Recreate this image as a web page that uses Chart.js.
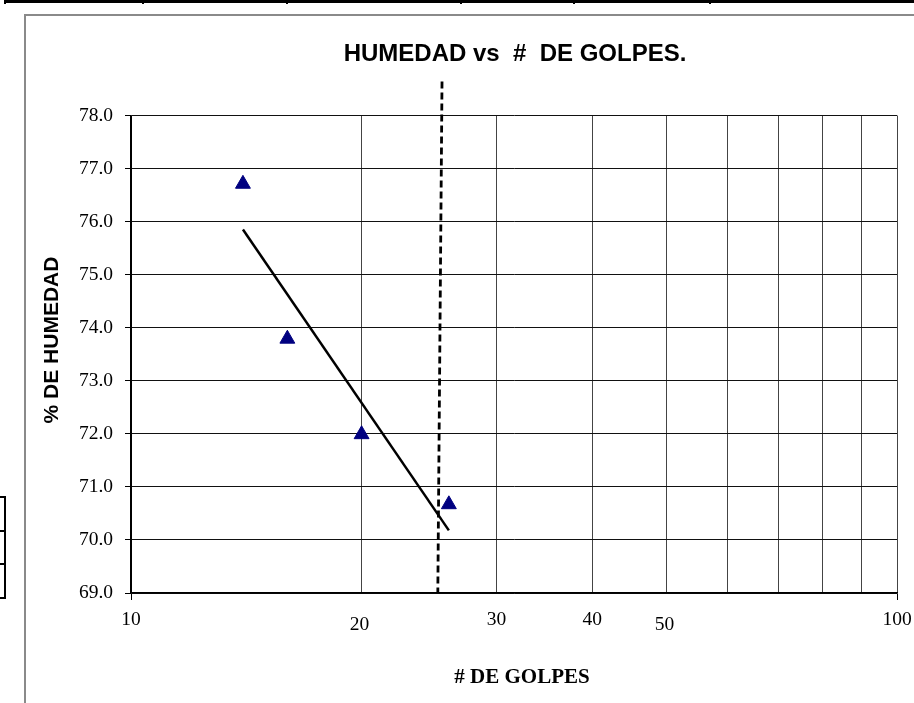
<!DOCTYPE html>
<html>
<head>
<meta charset="utf-8">
<script src="https://cdn.jsdelivr.net/npm/chart.js@4/dist/chart.umd.min.js"></script>
<style>
  html,body{margin:0;padding:0;background:#fff;}
  #wrap{position:relative;width:914px;height:703px;overflow:hidden;background:#fff;}
  #frame{position:absolute;left:24px;top:14px;width:1000px;height:1000px;border-left:2px solid #8a8a8a;border-top:2px solid #8a8a8a;}
  .blk{position:absolute;background:#000;}
  canvas{position:absolute;left:0;top:0;}
</style>
</head>
<body>
<div id="wrap">
  <div id="frame"></div>
  <!-- table fragments around the chart -->
  <div class="blk" style="left:4px;top:0;width:910px;height:3px;"></div>
  <div class="blk" style="left:4px;top:0;width:2px;height:4px;"></div>
  <div class="blk" style="left:142px;top:0;width:2px;height:4px;"></div>
  <div class="blk" style="left:286px;top:0;width:2px;height:4px;"></div>
  <div class="blk" style="left:460px;top:0;width:2px;height:4px;"></div>
  <div class="blk" style="left:573px;top:0;width:2px;height:4px;"></div>
  <div class="blk" style="left:709px;top:0;width:2px;height:4px;"></div>
  <div class="blk" style="left:4px;top:496px;width:2px;height:103px;"></div>
  <div class="blk" style="left:0;top:496px;width:6px;height:2px;"></div>
  <div class="blk" style="left:0;top:530px;width:6px;height:2px;"></div>
  <div class="blk" style="left:0;top:563px;width:6px;height:2px;"></div>
  <div class="blk" style="left:0;top:597px;width:6px;height:2px;"></div>
  <canvas id="c" width="914" height="703"></canvas>
</div>
<script>
// ---- data ----
const golpes   = [14.0, 16.0, 20.0, 26.0];          // # de golpes (x, log scale)
const humedad  = [76.71, 73.79, 71.99, 70.67];      // % de humedad (y)
const trendX   = [14.0, 26.0];                      // trend line ends
const trendY   = [75.85, 70.18];
const limitX   = [25.47, 25.15];                    // dashed vertical line at 25 golpes
const limitY   = [78.64, 69.0];
const xGridValues = [10, 20, 30, 40, 50, 60, 70, 80, 90, 100];
const xLabelValues = [10, 30, 40, 100];             // drawn by the axis
const xLowLabelValues = [20, 50];                   // drawn slightly lower in the reference
const yMin = 69, yMax = 78;

const titleText = 'HUMEDAD vs  #  DE GOLPES.';
const xTitle = '# DE GOLPES';
const yTitle = '% DE HUMEDAD';

const serif = '"Liberation Serif", "Times New Roman", serif';
const sans = '"Liberation Sans", Arial, sans-serif';

const toPts = (xs, ys) => xs.map((x, i) => ({x: x, y: ys[i]}));

const titlesPlugin = {
  id: 'titles',
  afterDraw(chart) {
    const ctx = chart.ctx;
    const xs = chart.scales.x;
    ctx.save();
    ctx.fillStyle = '#000';
    ctx.textAlign = 'center';
    ctx.textBaseline = 'middle';
    // low tick labels (20, 50)
    ctx.font = '19.5px ' + serif;
    xLowLabelValues.forEach(v => {
      ctx.fillText(String(v), xs.getPixelForValue(v) - 2, 625);
    });
    ctx.font = 'bold 24px ' + sans;
    ctx.fillText(titleText, 515, 54);
    ctx.font = 'bold 21px ' + serif;
    ctx.fillText(xTitle, 522, 678);
    ctx.translate(52, 340);
    ctx.rotate(-Math.PI / 2);
    ctx.font = 'bold 21px ' + sans;
    ctx.fillText(yTitle, 0, 0);
    ctx.restore();
  }
};

new Chart(document.getElementById('c'), {
  type: 'scatter',
  data: {
    datasets: [
      {
        label: 'puntos',
        data: toPts(golpes, humedad),
        pointStyle: 'triangle',
        pointRadius: 8.6,
        pointBackgroundColor: '#000080',
        pointBorderColor: '#000080',
        pointBorderWidth: 1,
        showLine: false,
        order: 1
      },
      {
        label: 'tendencia',
        data: toPts(trendX, trendY),
        showLine: true,
        borderColor: '#000',
        borderWidth: 2.5,
        pointRadius: 0,
        order: 2
      },
      {
        label: '25 golpes',
        data: toPts(limitX, limitY),
        showLine: true,
        borderColor: '#000',
        borderWidth: 2.8,
        borderDash: [7, 4],
        pointRadius: 0,
        clip: false,
        order: 3
      }
    ]
  },
  options: {
    responsive: false,
    animation: false,
    devicePixelRatio: 1,
    layout: { padding: { top: 115.5, right: 17, left: 0, bottom: 0 } },
    plugins: {
      legend: { display: false },
      title: { display: false },
      tooltip: { enabled: false }
    },
    scales: {
      x: {
        type: 'logarithmic',
        min: 10, max: 100,
        afterBuildTicks: (scale) => { scale.ticks = xGridValues.map(v => ({value: v})); },
        afterFit: (scale) => { scale.height = 110; scale.paddingRight = 0; scale.paddingLeft = 0; },
        border: { color: '#000', width: 1.5 },
        grid: {
          color: (c) => (c.tick && (c.tick.value === 10)) ? '#000' : '#444',
          lineWidth: 1,
          drawTicks: true,
          tickLength: 7,
          tickColor: (c) => (c.tick && (c.tick.value === 10 || c.tick.value === 100)) ? '#000' : 'rgba(0,0,0,0)'
        },
        ticks: {
          autoSkip: false,
          maxRotation: 0,
          padding: 8,
          color: '#000',
          font: { family: serif, size: 19.5 },
          callback: (v) => xLabelValues.includes(v) ? String(v) : ''
        },
        title: { display: false }
      },
      y: {
        min: yMin, max: yMax,
        afterFit: (scale) => { scale.width = 131; },
        border: { color: '#000', width: 1.5 },
        grid: {
          color: '#111',
          lineWidth: 1,
          drawTicks: true,
          tickLength: 6,
          tickColor: '#000'
        },
        ticks: {
          stepSize: 1,
          padding: 12,
          color: '#000',
          font: { family: serif, size: 19.5 },
          callback: (v) => Number(v).toFixed(1)
        },
        title: { display: false }
      }
    }
  },
  plugins: [titlesPlugin]
});
</script>
</body>
</html>
